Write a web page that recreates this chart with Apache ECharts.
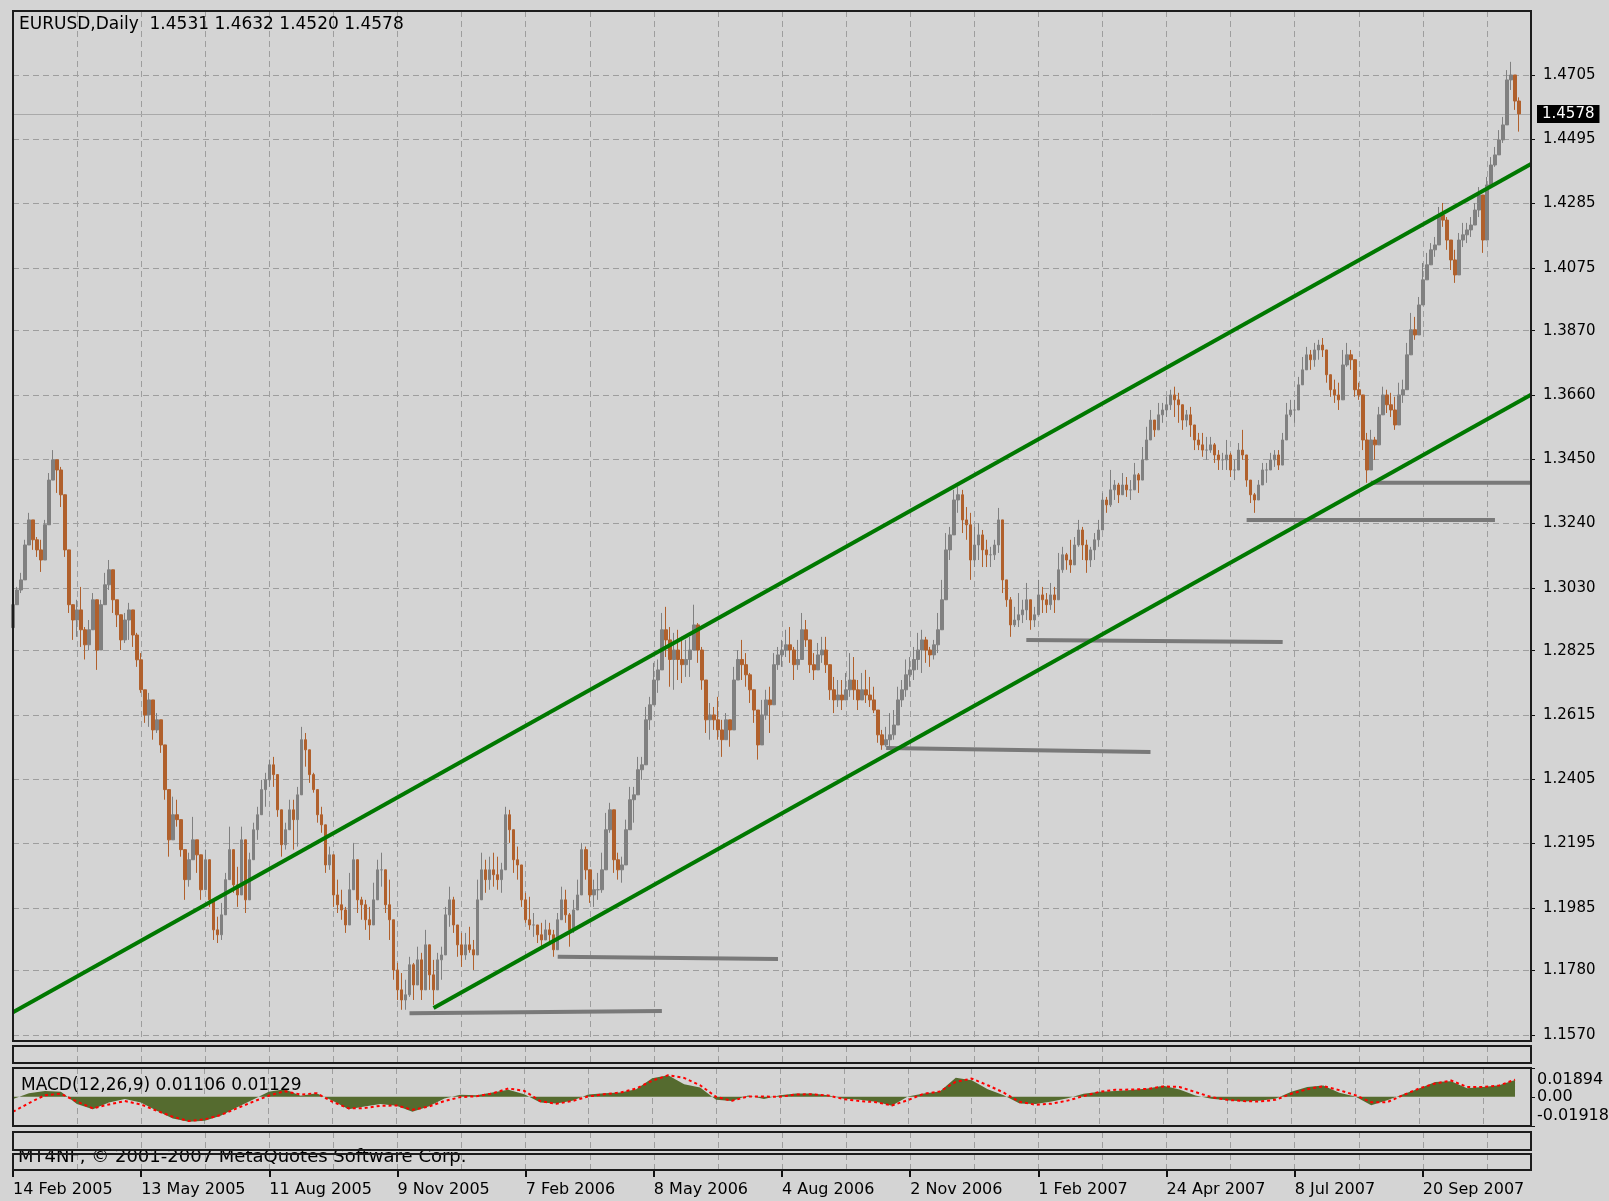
<!DOCTYPE html>
<html><head><meta charset="utf-8">
<script src="https://cdn.jsdelivr.net/npm/echarts@6/dist/echarts.min.js"></script>
<style>html,body{margin:0;padding:0;background:#d4d4d4;}#c{width:1609px;height:1201px;}</style>
</head><body><div id="c"></div>
<script>
const symbolTitle = 'EURUSD,Daily';
const lastBar = [1.4531, 1.4632, 1.4520, 1.4578];
const macdTitle = 'MACD(12,26,9) 0.01106 0.01129';
const copyrightText = 'MT4NF, \u00a9 2001-2007 MetaQuotes Software Corp.';
const dateLabels = ['14 Feb 2005','13 May 2005','11 Aug 2005','9 Nov 2005','7 Feb 2006','8 May 2006','4 Aug 2006','2 Nov 2006','1 Feb 2007','24 Apr 2007','8 Jul 2007','20 Sep 2007'];
const priceTicks = [1.1570,1.1780,1.1985,1.2195,1.2405,1.2615,1.2825,1.3030,1.3240,1.3450,1.3660,1.3870,1.4075,1.4285,1.4495,1.4705];
const macdMax = 0.01894, macdMin = -0.01918;
const firstOpen = 1.2900;
const closes = [
1.2975,1.3023,1.3056,1.3170,1.3252,1.3187,1.3154,1.3121,1.3236,1.3382,
1.3448,1.3415,1.3334,1.3154,1.2975,1.2925,1.2958,1.2893,1.2844,1.2893,
1.2991,1.2827,1.2975,1.3040,1.3089,1.2991,1.2942,1.2860,1.2925,1.2958,
1.2876,1.2795,1.2697,1.2615,1.2664,1.2566,1.2599,1.2517,1.2371,1.2207,
1.2289,1.2273,1.2175,1.2077,1.2142,1.2207,1.2158,1.2044,1.2142,1.2011,
1.1913,1.1897,1.1962,1.2077,1.2175,1.2060,1.2027,1.2207,1.2011,1.2142,
1.2240,1.2289,1.2371,1.2403,1.2452,1.2420,1.2305,1.2191,1.2240,1.2305,
1.2273,1.2354,1.2534,1.2501,1.2420,1.2371,1.2289,1.2256,1.2125,1.2158,
1.2027,1.1995,1.1978,1.1929,1.2044,1.2142,1.2011,1.1995,1.1946,1.1929,
1.2011,1.2109,1.2109,1.1995,1.1946,1.1782,1.1717,1.1684,1.1701,1.1799,
1.1733,1.1815,1.1717,1.1864,1.1766,1.1717,1.1815,1.1831,1.1962,1.2011,
1.1929,1.1864,1.1831,1.1864,1.1848,1.1831,1.2011,1.2109,1.2077,1.2109,
1.2093,1.2077,1.2109,1.2289,1.2240,1.2142,1.2125,1.2011,1.1946,1.1929,
1.1929,1.1897,1.1880,1.1913,1.1897,1.1848,1.1946,1.2011,1.1962,1.1913,
1.1978,1.2027,1.2175,1.2109,1.2027,1.2044,1.2044,1.2109,1.2240,1.2305,
1.2142,1.2109,1.2125,1.2240,1.2338,1.2354,1.2436,1.2452,1.2599,1.2648,
1.2729,1.2762,1.2893,1.2860,1.2796,1.2827,1.2796,1.2779,1.2796,1.2827,
1.2909,1.2827,1.2729,1.2599,1.2615,1.2599,1.2566,1.2534,1.2599,1.2566,
1.2729,1.2796,1.2779,1.2746,1.2697,1.2631,1.2517,1.2615,1.2664,1.2648,
1.2779,1.2811,1.2827,1.2844,1.2827,1.2779,1.2796,1.2893,1.2860,1.2779,
1.2762,1.2811,1.2827,1.2779,1.2697,1.2664,1.2680,1.2664,1.2697,1.2729,
1.2697,1.2664,1.2697,1.2680,1.2664,1.2631,1.2550,1.2517,1.2534,1.2550,
1.2582,1.2664,1.2697,1.2746,1.2762,1.2796,1.2827,1.2860,1.2827,1.2811,
1.2844,1.2893,1.2991,1.3154,1.3203,1.3317,1.3334,1.3252,1.3236,1.3121,
1.3170,1.3203,1.3154,1.3138,1.3138,1.3170,1.3252,1.3056,1.2991,1.2909,
1.2925,1.2942,1.2958,1.2991,1.2925,1.2942,1.3007,1.2991,1.2975,1.3007,
1.2991,1.3089,1.3138,1.3121,1.3105,1.3170,1.3219,1.3170,1.3121,1.3154,
1.3187,1.3219,1.3317,1.3301,1.3350,1.3366,1.3334,1.3366,1.3350,1.3350,
1.3399,1.3382,1.3448,1.3513,1.3578,1.3546,1.3595,1.3611,1.3628,1.3660,
1.3644,1.3628,1.3578,1.3595,1.3562,1.3513,1.3497,1.3480,1.3480,1.3497,
1.3464,1.3448,1.3448,1.3464,1.3415,1.3415,1.3480,1.3464,1.3382,1.3334,
1.3317,1.3366,1.3415,1.3415,1.3448,1.3464,1.3431,1.3513,1.3595,1.3611,
1.3611,1.3693,1.3742,1.3791,1.3775,1.3807,1.3823,1.3807,1.3726,1.3677,
1.3660,1.3644,1.3758,1.3791,1.3775,1.3677,1.3660,1.3513,1.3415,1.3513,
1.3497,1.3595,1.3660,1.3628,1.3611,1.3562,1.3660,1.3677,1.3791,1.3873,
1.3856,1.3954,1.4036,1.4085,1.4134,1.4150,1.4248,1.4231,1.4166,1.4101,
1.4052,1.4166,1.4183,1.4199,1.4215,1.4264,1.4313,1.4166,1.4346,1.4411,
1.4444,1.4493,1.4542,1.4689,1.4705,1.4620,1.4578];
const highs = [
1.2991,1.3033,1.3079,1.3187,1.3275,1.3252,1.3196,1.3187,1.3252,1.3405,
1.3480,1.3448,1.3425,1.3294,1.3079,1.2968,1.2991,1.3033,1.2902,1.2925,
1.3013,1.2948,1.2991,1.3079,1.3121,1.3056,1.2991,1.2925,1.2948,1.2981,
1.2925,1.2883,1.2817,1.2697,1.2687,1.2664,1.2621,1.2599,1.2478,1.2338,
1.2348,1.2338,1.2263,1.2119,1.2165,1.2282,1.2207,1.2152,1.2175,1.2109,
1.1988,1.1956,1.2001,1.2099,1.2250,1.2099,1.2119,1.2250,1.2119,1.2165,
1.2263,1.2315,1.2403,1.2426,1.2469,1.2478,1.2403,1.2282,1.2263,1.2338,
1.2338,1.2380,1.2576,1.2556,1.2478,1.2426,1.2328,1.2315,1.2240,1.2185,
1.2099,1.2077,1.2044,1.1988,1.2099,1.2197,1.2077,1.2021,1.2011,1.1988,
1.2067,1.2142,1.2165,1.2077,1.2077,1.1946,1.1805,1.1772,1.1750,1.1825,
1.1805,1.1858,1.1838,1.1913,1.1858,1.1815,1.1838,1.1858,1.1988,1.2054,
1.2021,1.1923,1.1903,1.1903,1.1923,1.1880,1.2077,1.2165,1.2142,1.2152,
1.2165,1.2152,1.2132,1.2315,1.2305,1.2230,1.2185,1.2099,1.2034,1.2021,
1.1968,1.1923,1.1936,1.1946,1.1936,1.1913,1.1968,1.2054,1.2044,1.1968,
1.2011,1.2077,1.2197,1.2185,1.2099,1.2077,1.2099,1.2165,1.2295,1.2328,
1.2207,1.2165,1.2152,1.2273,1.2380,1.2380,1.2478,1.2478,1.2641,1.2674,
1.2785,1.2796,1.2948,1.2968,1.2902,1.2883,1.2893,1.2870,1.2860,1.2870,
1.2975,1.2915,1.2837,1.2687,1.2654,1.2641,1.2674,1.2599,1.2621,1.2599,
1.2772,1.2827,1.2860,1.2817,1.2752,1.2687,1.2599,1.2664,1.2697,1.2707,
1.2817,1.2837,1.2860,1.2893,1.2902,1.2837,1.2860,1.2948,1.2925,1.2860,
1.2817,1.2850,1.2870,1.2870,1.2772,1.2739,1.2729,1.2729,1.2752,1.2817,
1.2804,1.2729,1.2752,1.2762,1.2739,1.2707,1.2621,1.2566,1.2576,1.2621,
1.2631,1.2707,1.2729,1.2796,1.2804,1.2837,1.2883,1.2893,1.2870,1.2837,
1.2860,1.2948,1.3056,1.3209,1.3229,1.3350,1.3360,1.3350,1.3294,1.3275,
1.3229,1.3242,1.3219,1.3187,1.3164,1.3187,1.3291,1.3164,1.3056,1.3000,
1.2968,1.3013,1.2991,1.3046,1.2991,1.2968,1.3056,1.3033,1.3013,1.3046,
1.3033,1.3144,1.3164,1.3144,1.3187,1.3196,1.3252,1.3229,1.3187,1.3164,
1.3209,1.3252,1.3340,1.3327,1.3415,1.3382,1.3373,1.3405,1.3392,1.3382,
1.3438,1.3405,1.3490,1.3556,1.3611,1.3578,1.3634,1.3634,1.3654,1.3677,
1.3687,1.3667,1.3621,1.3611,1.3621,1.3556,1.3536,1.3536,1.3523,1.3523,
1.3503,1.3480,1.3471,1.3513,1.3471,1.3448,1.3503,1.3546,1.3438,1.3382,
1.3340,1.3382,1.3438,1.3438,1.3471,1.3480,1.3480,1.3536,1.3634,1.3644,
1.3644,1.3719,1.3784,1.3817,1.3807,1.3830,1.3840,1.3846,1.3784,1.3719,
1.3710,1.3700,1.3807,1.3830,1.3807,1.3752,1.3700,1.3644,1.3536,1.3546,
1.3523,1.3621,1.3687,1.3677,1.3667,1.3654,1.3700,1.3710,1.3830,1.3928,
1.3915,1.3980,1.4091,1.4124,1.4156,1.4176,1.4274,1.4287,1.4241,1.4156,
1.4134,1.4189,1.4222,1.4222,1.4241,1.4287,1.4339,1.4297,1.4372,1.4437,
1.4470,1.4525,1.4568,1.4721,1.4748,1.4705,1.4632];
const lows = [
1.2870,1.3000,1.3013,1.3056,1.3177,1.3154,1.3131,1.3082,1.3187,1.3327,
1.3392,1.3340,1.3294,1.3131,1.2948,1.2860,1.2870,1.2837,1.2796,1.2827,
1.2902,1.2762,1.2860,1.3000,1.3023,1.2948,1.2902,1.2827,1.2850,1.2860,
1.2837,1.2772,1.2687,1.2589,1.2576,1.2534,1.2556,1.2491,1.2338,1.2152,
1.2230,1.2250,1.2152,1.2011,1.2054,1.2142,1.2099,1.2011,1.2077,1.1988,
1.1880,1.1870,1.1880,1.1988,1.2099,1.2034,1.1988,1.2142,1.1968,1.2067,
1.2142,1.2207,1.2305,1.2315,1.2380,1.2380,1.2282,1.2152,1.2175,1.2250,
1.2175,1.2185,1.2371,1.2446,1.2393,1.2361,1.2263,1.2230,1.2099,1.2109,
1.1988,1.1968,1.1946,1.1903,1.1946,1.2067,1.1968,1.1946,1.1913,1.1880,
1.1946,1.2044,1.2054,1.1968,1.1880,1.1750,1.1684,1.1652,1.1652,1.1694,
1.1684,1.1740,1.1684,1.1792,1.1717,1.1668,1.1750,1.1750,1.1890,1.1923,
1.1903,1.1825,1.1792,1.1815,1.1838,1.1782,1.1903,1.2021,1.2034,1.2044,
1.2054,1.2044,1.2034,1.2207,1.2197,1.2099,1.2077,1.1988,1.1936,1.1913,
1.1890,1.1870,1.1858,1.1880,1.1870,1.1825,1.1903,1.1946,1.1936,1.1858,
1.1903,1.1988,1.2099,1.2077,1.2001,1.1988,1.2011,1.2034,1.2185,1.2230,
1.2099,1.2077,1.2067,1.2152,1.2273,1.2263,1.2371,1.2403,1.2543,1.2566,
1.2664,1.2687,1.2837,1.2804,1.2707,1.2697,1.2729,1.2719,1.2739,1.2739,
1.2837,1.2785,1.2697,1.2556,1.2534,1.2566,1.2534,1.2478,1.2534,1.2511,
1.2674,1.2739,1.2729,1.2707,1.2654,1.2589,1.2469,1.2566,1.2599,1.2556,
1.2729,1.2762,1.2772,1.2804,1.2785,1.2729,1.2762,1.2804,1.2837,1.2752,
1.2729,1.2762,1.2785,1.2752,1.2664,1.2621,1.2641,1.2631,1.2664,1.2674,
1.2664,1.2631,1.2664,1.2654,1.2641,1.2621,1.2524,1.2501,1.2511,1.2511,
1.2534,1.2599,1.2641,1.2674,1.2707,1.2729,1.2762,1.2752,1.2785,1.2772,
1.2796,1.2817,1.2925,1.3079,1.3121,1.3252,1.3275,1.3209,1.3187,1.3056,
1.3098,1.3121,1.3098,1.3098,1.3098,1.3121,1.3144,1.3013,1.2968,1.2870,
1.2902,1.2902,1.2915,1.2925,1.2893,1.2902,1.2958,1.2948,1.2948,1.2958,
1.2948,1.3033,1.3079,1.3089,1.3079,1.3111,1.3164,1.3121,1.3079,1.3098,
1.3121,1.3164,1.3252,1.3275,1.3294,1.3317,1.3307,1.3340,1.3327,1.3317,
1.3360,1.3340,1.3392,1.3458,1.3536,1.3523,1.3546,1.3569,1.3588,1.3611,
1.3588,1.3569,1.3546,1.3556,1.3523,1.3480,1.3480,1.3458,1.3448,1.3471,
1.3438,1.3415,1.3415,1.3415,1.3392,1.3382,1.3438,1.3448,1.3360,1.3307,
1.3275,1.3327,1.3373,1.3373,1.3415,1.3425,1.3415,1.3471,1.3536,1.3588,
1.3569,1.3644,1.3700,1.3765,1.3742,1.3752,1.3775,1.3784,1.3700,1.3654,
1.3634,1.3611,1.3719,1.3752,1.3742,1.3654,1.3644,1.3480,1.3373,1.3458,
1.3448,1.3536,1.3601,1.3601,1.3588,1.3546,1.3611,1.3634,1.3719,1.3830,
1.3840,1.3915,1.3960,1.4036,1.4091,1.4111,1.4176,1.4209,1.4134,1.4068,
1.4026,1.4111,1.4143,1.4156,1.4176,1.4222,1.4241,1.4124,1.4287,1.4372,
1.4405,1.4460,1.4483,1.4568,1.4656,1.4591,1.4520];
const macdHist = [
-0.0015,0.0024,0.0039,0.0033,-0.0048,-0.0081,-0.0037,-0.0015,-0.0037,-0.0092,
-0.0142,-0.0164,-0.0157,-0.0124,-0.0070,-0.0020,0.0033,0.0050,0.0007,0.0024,
-0.0026,-0.0081,-0.0063,-0.0048,-0.0059,-0.0098,-0.0063,-0.0011,0.0013,0.0011,
0.0028,0.0046,0.0017,-0.0037,-0.0044,-0.0026,0.0015,0.0024,0.0028,0.0050,
0.0122,0.0142,0.0083,0.0061,-0.0020,-0.0028,0.0009,-0.0015,0.0011,0.0022,
0.0022,0.0011,-0.0013,-0.0020,-0.0033,-0.0059,0.0002,0.0022,0.0035,0.0126,
0.0109,0.0050,0.0011,-0.0044,-0.0048,-0.0030,-0.0010,0.0020,0.0033,0.0039,
0.0044,0.0055,0.0072,0.0048,0.0009,-0.0013,-0.0022,-0.0031,-0.0026,-0.0013,
0.0033,0.0065,0.0074,0.0026,0.0002,-0.0055,-0.0022,0.0017,0.0055,0.0098,
0.0102,0.0057,0.0065,0.0076,0.0111];
const macdSignal = [
-0.0098,-0.0041,0.0011,0.0020,-0.0031,-0.0076,-0.0050,-0.0028,-0.0050,-0.0092,
-0.0131,-0.0159,-0.0148,-0.0120,-0.0076,-0.0033,0.0007,0.0037,0.0015,0.0024,
-0.0033,-0.0076,-0.0074,-0.0059,-0.0057,-0.0085,-0.0065,-0.0028,-0.0002,0.0004,
0.0022,0.0055,0.0039,-0.0028,-0.0046,-0.0028,0.0002,0.0017,0.0028,0.0055,
0.0105,0.0142,0.0124,0.0076,0.0000,-0.0026,0.0002,0.0002,0.0000,0.0015,
0.0017,0.0009,-0.0015,-0.0028,-0.0035,-0.0057,-0.0022,0.0020,0.0035,0.0098,
0.0120,0.0076,0.0028,-0.0033,-0.0052,-0.0045,-0.0025,0.0005,0.0033,0.0046,
0.0048,0.0052,0.0068,0.0065,0.0031,-0.0002,-0.0020,-0.0028,-0.0031,-0.0020,
0.0020,0.0050,0.0070,0.0044,0.0011,-0.0035,-0.0035,0.0011,0.0055,0.0087,
0.0107,0.0065,0.0065,0.0074,0.0113];
const upperChannel = [[0, 1.1644], [379, 1.4414]];
const lowerChannel = [[105, 1.1658], [379, 1.3661]];
const supportLines = [
  [[99, 1.1641], [162, 1.1648]],
  [[136, 1.1825], [191, 1.1818]],
  [[218, 1.2507], [284, 1.2494]],
  [[253, 1.2860], [317, 1.2853]],
  [[308, 1.3252], [370, 1.3252]],
  [[339, 1.3373], [379, 1.3373]]
];

const SLOTS = 380, MSLOTS = 96;
const FONT = 'DejaVu Sans';
const GRIDC = '#9e9e9e';
const cats = Array.from({length: SLOTS}, (_, i) => String(i));
const mcats = Array.from({length: MSLOTS}, (_, i) => String(i));
const ohlc = closes.map((c, i) => [i === 0 ? firstOpen : closes[i - 1], c, lows[i], highs[i]]);
const lastClose = closes[closes.length - 1];

const L = 13, W = 1518;
const panels = [
  {top: 11, height: 1030},
  {top: 1046, height: 17},
  {top: 1068, height: 58},
  {top: 1132, height: 18},
  {top: 1154, height: 16}
];
const grid = panels.map(p => ({left: L, width: W, top: p.top, height: p.height, show: true,
  backgroundColor: 'transparent', borderColor: '#1c1c1c', borderWidth: 2, z: 10, outerBoundsMode: 'none'}));

const vSplit = (interval) => ({show: true, interval: interval, lineStyle: {color: GRIDC, type: [6, 4], width: 1}});
const xAxis = panels.map((p, k) => {
  const isMacd = k === 2, isLast = k === 4;
  return {
    type: 'category', gridIndex: k, data: isMacd ? mcats : cats, boundaryGap: false,
    axisLine: {show: false},
    axisTick: isLast ? {show: true, interval: 31, length: 7, inside: false, lineStyle: {color: '#111', width: 2}} : {show: false},
    axisLabel: isLast ? {show: true, interval: 31, align: 'left', margin: 12, color: '#000', fontFamily: FONT, fontSize: 16,
      formatter: (v, idx) => dateLabels[Math.round(idx / 32)] || ''} : {show: false},
    splitLine: vSplit(isMacd ? 3 : 15)
  };
});
// one MACD axis per label so the (overlapping, as in the original) labels are all kept
const macdAxis = (vals, fmt, extra) => Object.assign({type: 'value', gridIndex: 2, position: 'right', min: macdMin, max: macdMax,
  axisLine: {show: false},
  axisTick: {show: true, customValues: vals, length: 4, lineStyle: {color: '#111', width: 1}},
  axisLabel: Object.assign({show: true, customValues: vals, margin: 6, color: '#000', fontFamily: FONT, fontSize: 16,
    hideOverlap: false, showMinLabel: true, showMaxLabel: true, formatter: fmt}, extra || {}),
  splitLine: {show: false}});
const yAxis = [
  {type: 'value', gridIndex: 0, position: 'right', min: 1.1550, max: 1.4914,
    axisLine: {show: false},
    axisTick: {show: true, customValues: priceTicks, length: 4, lineStyle: {color: '#111', width: 1}},
    axisLabel: {show: true, customValues: priceTicks, margin: 12, color: '#000', fontFamily: FONT, fontSize: 15,
      hideOverlap: false, formatter: v => v.toFixed(4)},
    splitLine: {show: true, lineStyle: {color: GRIDC, type: [6, 4], width: 1}}},
  {type: 'value', gridIndex: 1, show: false},
  macdAxis([0], () => '0.00', {}),
  {type: 'value', gridIndex: 3, show: false},
  {type: 'value', gridIndex: 4, show: false},
  macdAxis([macdMax], v => v.toFixed(5), {verticalAlign: 'top', padding: [4, 0, 0, 0]}),
  macdAxis([macdMin], v => v.toFixed(5), {verticalAlign: 'bottom', padding: [0, 0, 2, 0]})
];

const series = [
  {type: 'candlestick', xAxisIndex: 0, yAxisIndex: 0, data: ohlc, barWidth: 3, z: 3,
    itemStyle: {color: '#808080', color0: '#b0602c', borderColor: '#808080', borderColor0: '#b0602c', borderWidth: 1},
    markLine: {silent: true, symbol: 'none', z: 1, precision: 4,
      lineStyle: {color: '#a9a9a9', type: 'solid', width: 1},
      label: {show: true, position: 'end', distance: 6, formatter: p => Number(p.value).toFixed(4),
        backgroundColor: '#000', color: '#fff', fontFamily: FONT, fontSize: 15, padding: [2, 5, 1, 5]},
      data: [{yAxis: lastClose}]}},
  {type: 'line', xAxisIndex: 0, yAxisIndex: 0, data: upperChannel, symbol: 'none', z: 5,
    lineStyle: {color: '#007800', width: 4}},
  {type: 'line', xAxisIndex: 0, yAxisIndex: 0, data: lowerChannel, symbol: 'none', z: 5,
    lineStyle: {color: '#007800', width: 4}}
].concat(supportLines.map(seg => ({type: 'line', xAxisIndex: 0, yAxisIndex: 0, data: seg, symbol: 'none', z: 4,
  lineStyle: {color: '#797979', width: 4, cap: 'butt'}}))).concat([
  {type: 'line', xAxisIndex: 2, yAxisIndex: 2, data: macdHist, symbol: 'none', z: 3,
    lineStyle: {width: 0, color: '#556b2f'}, areaStyle: {color: '#556b2f', opacity: 1, origin: 'auto'}},
  {type: 'line', xAxisIndex: 2, yAxisIndex: 2, data: macdSignal, symbol: 'none', z: 4, smooth: false,
    lineStyle: {color: '#ff0000', width: 2, type: [3, 3]}}
]);

const chart = echarts.init(document.getElementById('c'), null, {renderer: 'canvas'});
chart.setOption({
  animation: false,
  backgroundColor: '#d4d4d4',
  textStyle: {fontFamily: FONT},
  title: [
    {text: symbolTitle + '  ' + lastBar.map(v => v.toFixed(4)).join(' '), left: 19, top: 16, padding: 0, z: 12,
      textStyle: {fontFamily: FONT, fontSize: 17, fontWeight: 'normal', color: '#000'}},
    {text: macdTitle, left: 21, top: 1077, padding: 0, z: 12,
      textStyle: {fontFamily: FONT, fontSize: 17, fontWeight: 'normal', color: '#000'}},
    {text: copyrightText, left: 18, top: 1148, padding: 0, z: 1,
      textStyle: {fontFamily: FONT, fontSize: 18, fontWeight: 'normal', color: '#000'}}
  ],
  grid: grid,
  xAxis: xAxis,
  yAxis: yAxis,
  series: series
});
</script>
</body></html>
